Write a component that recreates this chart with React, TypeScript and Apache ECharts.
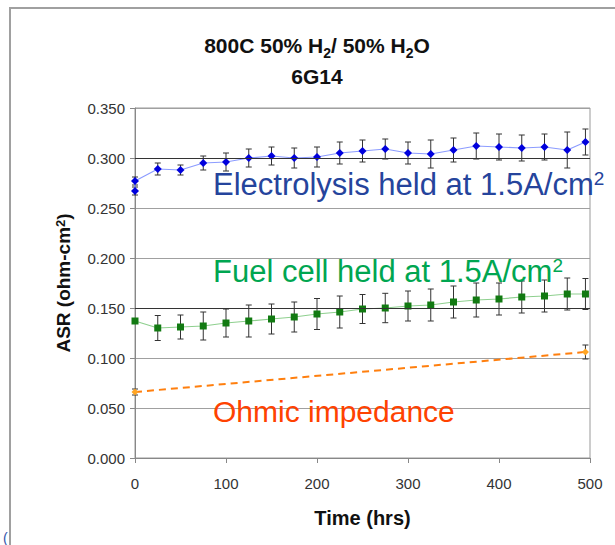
import React, { useEffect, useRef } from "react";
import * as echarts from "echarts";

const elecTime = [0, 0, 25, 50, 75, 100, 125, 150, 175, 200, 225, 250, 275, 300, 325, 350, 375, 400, 425, 450, 475, 495];
const elecASR = [0.267, 0.277, 0.289, 0.288, 0.295, 0.296, 0.300, 0.302, 0.300, 0.301, 0.305, 0.307, 0.309, 0.305, 0.304, 0.308, 0.312, 0.311, 0.310, 0.311, 0.308, 0.316];
const elecErr = [0.004, 0.004, 0.006, 0.005, 0.007, 0.009, 0.009, 0.009, 0.010, 0.010, 0.011, 0.011, 0.010, 0.011, 0.014, 0.012, 0.013, 0.013, 0.013, 0.013, 0.018, 0.013];

const fcTime = [0, 25, 50, 75, 100, 125, 150, 175, 200, 225, 250, 275, 300, 325, 350, 375, 400, 425, 450, 475, 495];
const fcASR = [0.137, 0.130, 0.131, 0.132, 0.135, 0.137, 0.139, 0.141, 0.144, 0.146, 0.149, 0.150, 0.152, 0.153, 0.156, 0.158, 0.159, 0.161, 0.162, 0.164, 0.164];
const fcErr = [0.002, 0.0125, 0.012, 0.014, 0.014, 0.016, 0.015, 0.015, 0.0155, 0.016, 0.0145, 0.0147, 0.015, 0.016, 0.016, 0.017, 0.016, 0.016, 0.016, 0.016, 0.0155];

const ohmTime = [0, 495];
const ohmASR = [0.066, 0.106];
const ohmErr = [0.003, 0.007];

const darkGridLines = [0.3, 0.15];

const FONT = "Liberation Sans, Arial, sans-serif";

function errData(t: number[], v: number[], e: number[]) {
  return t.map((x, i) => [x, v[i] - e[i], v[i] + e[i]]);
}

function errSeries(name: string, data: number[][]) {
  return {
    name,
    type: "custom",
    silent: true,
    z: 1,
    renderItem: (params: any, api: any) => {
      const x = api.value(0);
      const top = api.coord([x, api.value(2)]);
      const bot = api.coord([x, api.value(1)]);
      const w = 3;
      const style = { stroke: "#333", lineWidth: 1 };
      return {
        type: "group",
        children: [
          { type: "line", shape: { x1: top[0], y1: top[1], x2: bot[0], y2: bot[1] }, style },
          { type: "line", shape: { x1: top[0] - w, y1: top[1], x2: top[0] + w, y2: top[1] }, style },
          { type: "line", shape: { x1: bot[0] - w, y1: bot[1], x2: bot[0] + w, y2: bot[1] }, style },
        ],
      };
    },
    encode: { x: 0, y: [1, 2] },
    data,
  };
}

export default function App() {
  const ref = useRef<HTMLDivElement>(null);
  useEffect(() => {
    if (!ref.current) return;
    const chart = echarts.init(ref.current, null, { renderer: "svg" });
    const supStyle = (size: number, color: string) => ({
      fontSize: size,
      fill: color,
      color,
      fontFamily: FONT,
      verticalAlign: "top",
    });
    chart.setOption({
      animation: false,
      backgroundColor: "#ffffff",
      grid: {
        left: 135,
        right: 25,
        top: 108,
        bottom: 87,
        show: true,
        borderColor: "#999",
        borderWidth: 1,
      },
      xAxis: {
        type: "value",
        min: 0,
        max: 500,
        interval: 100,
        name: "Time (hrs)",
        nameLocation: "middle",
        nameGap: 50,
        nameTextStyle: { fontFamily: FONT, fontSize: 20, fontWeight: "bold", color: "#111" },
        axisLine: { show: true, lineStyle: { color: "#888" } },
        axisTick: { show: true, inside: false, length: 5, lineStyle: { color: "#888" } },
        axisLabel: { fontFamily: FONT, fontSize: 15, color: "#333", margin: 18 },
        splitLine: { show: false },
      },
      yAxis: {
        type: "value",
        min: 0,
        max: 0.35,
        interval: 0.05,
        name: "ASR (ohm-cm{sup|2})",
        nameLocation: "middle",
        nameGap: 62,
        nameRotate: 90,
        nameTextStyle: {
          fontFamily: FONT,
          fontSize: 19,
          fontWeight: "bold",
          color: "#111",
          rich: { sup: { fontSize: 13, fontWeight: "bold", color: "#111", verticalAlign: "top", fontFamily: FONT } },
        },
        axisLine: { show: true, lineStyle: { color: "#888" } },
        axisTick: { show: true, inside: false, length: 5, lineStyle: { color: "#888" } },
        axisLabel: {
          fontFamily: FONT,
          fontSize: 15,
          color: "#333",
          margin: 10,
          formatter: (v: number) => v.toFixed(3),
        },
        splitLine: { show: true, lineStyle: { color: "#a0a0a0", width: 1 } },
      },
      series: [
        errSeries("elecErr", errData(elecTime, elecASR, elecErr)),
        errSeries("fcErr", errData(fcTime, fcASR, fcErr)),
        errSeries("ohmErr", errData(ohmTime, ohmASR, ohmErr)),
        {
          name: "Electrolysis",
          type: "line",
          z: 3,
          data: elecTime.map((t, i) => [t, elecASR[i]]),
          symbol: "diamond",
          symbolSize: 8,
          itemStyle: { color: "#0000dd" },
          lineStyle: { color: "#8c9cff", width: 1.2 },
          markLine: {
            silent: true,
            symbol: "none",
            label: { show: false },
            lineStyle: { color: "#333", type: "solid", width: 1 },
            data: darkGridLines.map((y) => ({ yAxis: y })),
          },
        },
        {
          name: "Fuel cell",
          type: "line",
          z: 3,
          data: fcTime.map((t, i) => [t, fcASR[i]]),
          symbol: "rect",
          symbolSize: 7,
          itemStyle: { color: "#127a12" },
          lineStyle: { color: "#8fd08f", width: 1.2 },
        },
        {
          name: "Ohmic",
          type: "line",
          z: 3,
          data: ohmTime.map((t, i) => [t, ohmASR[i]]),
          symbol: "diamond",
          symbolSize: 7,
          itemStyle: { color: "#ffa524" },
          lineStyle: { color: "#ff7f0e", width: 2, type: [7, 5] },
        },
      ],
      graphic: [
        {
          type: "polyline",
          shape: { points: [[10, 545], [10, 8], [615, 8]] },
          style: { stroke: "#a0a0a0", lineWidth: 2, fill: "none" },
          silent: true,
        },
        {
          type: "text",
          x: 3,
          y: 538,
          style: { text: "(", fontSize: 14, fill: "#3355aa", fontFamily: FONT, verticalAlign: "middle" },
        },
        {
          type: "text",
          x: 317,
          y: 45,
          style: {
            text: "800C 50% H{sub|2}/ 50% H{sub|2}O",
            fontSize: 21,
            fontWeight: "bold",
            fill: "#111",
            fontFamily: FONT,
            align: "center",
            verticalAlign: "middle",
            rich: {
              sub: { fontSize: 14, fontWeight: "bold", fill: "#111", fontFamily: FONT, verticalAlign: "bottom", lineHeight: 30 },
            },
          },
        },
        {
          type: "text",
          x: 317,
          y: 76,
          style: {
            text: "6G14",
            fontSize: 21,
            fontWeight: "bold",
            fill: "#111",
            fontFamily: FONT,
            align: "center",
            verticalAlign: "middle",
          },
        },
        {
          type: "text",
          x: 213,
          y: 184,
          z: 10,
          style: {
            text: "Electrolysis held at 1.5A/cm{sup|2}",
            fontSize: 31,
            fill: "#25449c",
            fontFamily: FONT,
            verticalAlign: "middle",
            rich: { sup: supStyle(19, "#25449c") },
          },
        },
        {
          type: "text",
          x: 213,
          y: 271,
          z: 10,
          style: {
            text: "Fuel cell held at 1.5A/cm{sup|2}",
            fontSize: 31,
            fill: "#00a651",
            fontFamily: FONT,
            verticalAlign: "middle",
            rich: { sup: supStyle(19, "#00a651") },
          },
        },
        {
          type: "text",
          x: 213,
          y: 411,
          z: 10,
          style: {
            text: "Ohmic impedance",
            fontSize: 30,
            fill: "#ff4200",
            fontFamily: FONT,
            verticalAlign: "middle",
          },
        },
      ],
    });
    return () => chart.dispose();
  }, []);
  return (
    <div
      ref={ref}
      style={{ position: "fixed", left: 0, top: 0, width: 615, height: 545, background: "#fff" }}
    />
  );
}
